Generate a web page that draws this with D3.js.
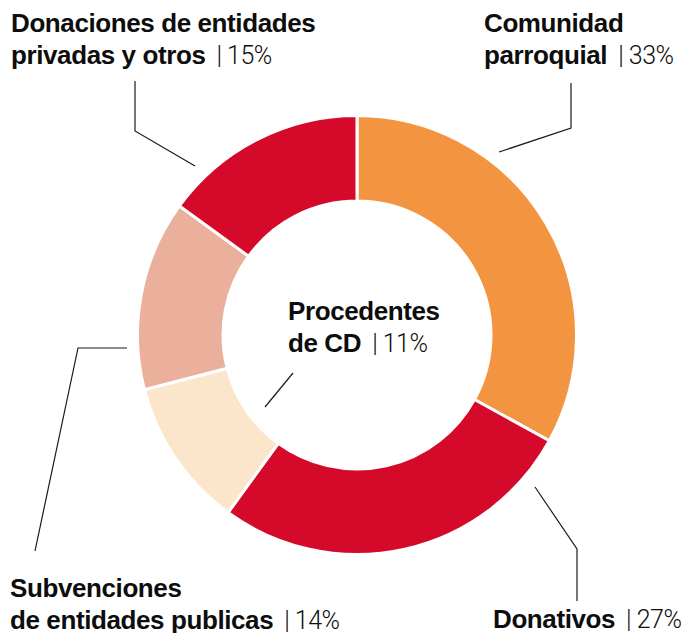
<!DOCTYPE html>
<html>
<head>
<meta charset="utf-8">
<script src="https://cdn.jsdelivr.net/npm/d3@7"></script>
<style>
  html, body { margin: 0; padding: 0; background: #fff; }
  svg { display: block; }
</style>
</head>
<body>
<script>
// data
var categories = ["Comunidad parroquial", "Donativos", "Procedentes de CD",
  "Subvenciones de entidades publicas", "Donaciones de entidades privadas y otros"];
var values = [33, 27, 11, 14, 15];
var colors = ["#f39540", "#d50a2b", "#fce6cb", "#eab09c", "#d50a2b"];

// label layout (line breaks, anchor, leader line)
var labelLines = [
  ["Comunidad", "parroquial"],
  ["Donativos"],
  ["Procedentes", "de CD"],
  ["Subvenciones", "de entidades publicas"],
  ["Donaciones de entidades", "privadas y otros"]
];
var labelPos = [[484, 32], [493, 628], [288, 320], [10, 597], [11, 32]];
var leaders = [
  [[499, 152], [571, 128], [571, 83]],
  [[535, 487], [577, 549], [577, 601]],
  [[293, 373], [265, 407]],
  [[127, 348], [78, 348], [35, 551]],
  [[195, 166], [135, 131], [135, 81]]
];

var width = 690, height = 633;
var cx = 357, cy = 335;

var svg = d3.select('body').append('svg')
  .attr('width', width)
  .attr('height', height);

var pie = d3.pie().sort(null).value(d => d);
var arc = d3.arc().innerRadius(134).outerRadius(219.5);

var g = svg.append('g').attr('transform', 'translate(' + cx + ',' + cy + ')');

g.selectAll('path.slice')
  .data(pie(values))
  .enter().append('path')
  .attr('class', 'slice')
  .attr('d', arc)
  .attr('fill', (d, i) => colors[i])
  .attr('stroke', '#fff')
  .attr('stroke-width', 3)
  .attr('stroke-linejoin', 'miter');

// leader lines
var line = d3.line();
svg.selectAll('path.leader')
  .data(leaders)
  .enter().append('path')
  .attr('class', 'leader')
  .attr('d', line)
  .attr('fill', 'none')
  .attr('stroke', '#1a1a1a')
  .attr('stroke-width', 1.2);

// labels
var lh = 31.5;
categories.forEach(function(c, i) {
  var lines = labelLines[i];
  var t = svg.append('text')
    .attr('x', labelPos[i][0])
    .attr('y', labelPos[i][1])
    .style('font-family', '"Liberation Sans", Arial, sans-serif')
    .style('font-size', '26px')
    .style('fill', '#0d0d0d');
  lines.forEach(function(l, j) {
    t.append('tspan')
      .attr('x', labelPos[i][0])
      .attr('dy', j === 0 ? 0 : lh)
      .style('font-weight', 700)
      .style('letter-spacing', '-0.4px')
      .text(l);
    if (j === lines.length - 1) {
      t.append('tspan')
        .attr('dx', 11)
        .style('font-family', 'Roboto, sans-serif')
        .style('font-weight', 300)
        .style('font-size', '25px')
        .style('letter-spacing', '-0.5px')
        .text('| ' + values[i] + '%');
    }
  });
});
</script>
</body>
</html>
